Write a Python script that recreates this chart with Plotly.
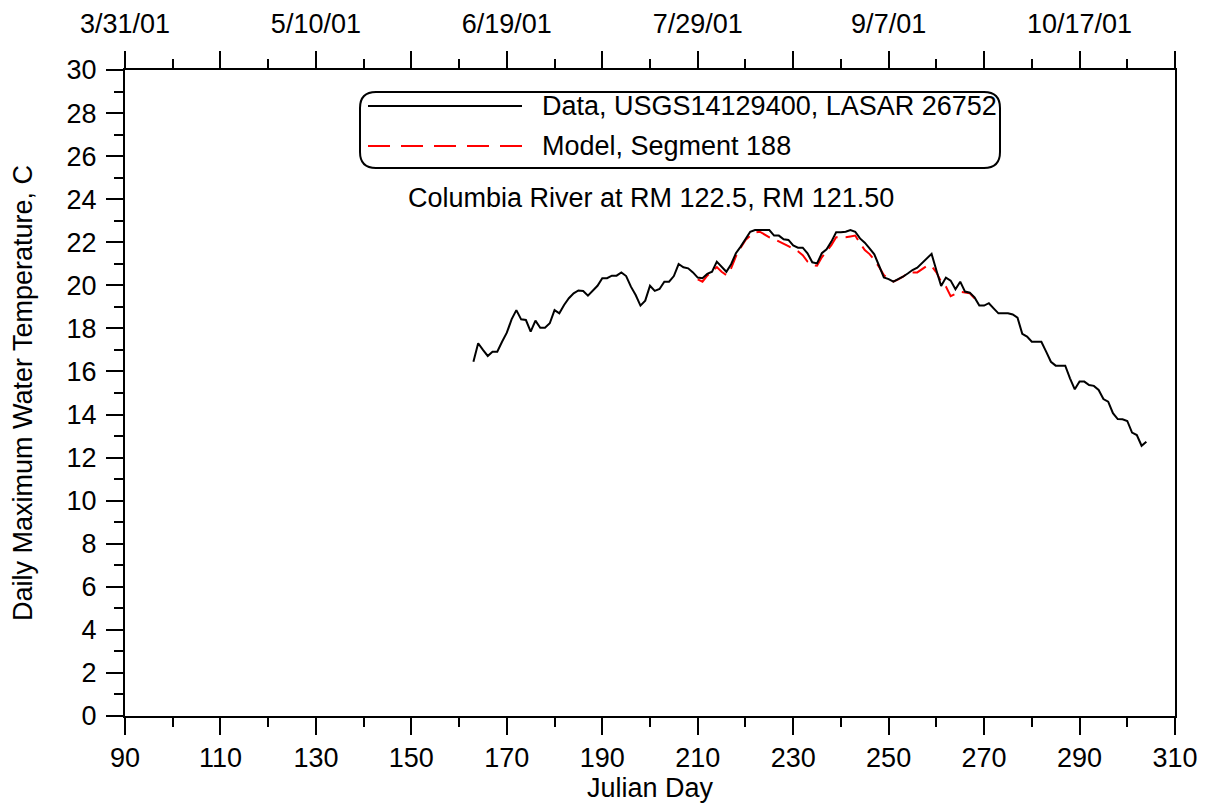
import datetime
import plotly.graph_objects as go

# ---------------- data ----------------
data_days = list(range(163, 305))
data_temp = [
    16.45, 17.31, 17.0, 16.72, 16.92, 16.92, 17.38, 17.8, 18.42, 18.85,
    18.42, 18.39, 17.85, 18.36, 18.03, 18.03, 18.24, 18.85, 18.7, 19.09,
    19.4, 19.63, 19.76, 19.74, 19.52, 19.75, 19.98, 20.33, 20.33, 20.45,
    20.45, 20.6, 20.43, 19.94, 19.55, 19.06, 19.29, 19.98, 19.74, 19.83,
    20.17, 20.17, 20.43, 20.99, 20.84, 20.79, 20.6, 20.36, 20.33, 20.53,
    20.63, 21.1, 20.84, 20.63, 20.98, 21.49, 21.8, 22.14, 22.49, 22.57,
    22.57, 22.57, 22.57, 22.31, 22.31, 22.14, 22.11, 21.85, 21.75, 21.75,
    21.49, 21.07, 21.02, 21.49, 21.67, 22.03, 22.46, 22.46, 22.49, 22.57,
    22.49, 22.18, 21.98, 21.72, 21.44, 20.91, 20.37, 20.29, 20.17, 20.29,
    20.4, 20.55, 20.71, 20.82, 21.02, 21.26, 21.46, 20.7, 19.97, 20.36,
    20.22, 19.82, 20.17, 19.71, 19.66, 19.44, 19.06, 19.06, 19.17, 18.93,
    18.7, 18.7, 18.7, 18.65, 18.5, 17.75, 17.62, 17.38, 17.38, 17.38,
    16.92, 16.45, 16.27, 16.27, 16.27, 15.68, 15.17, 15.53, 15.53, 15.37,
    15.33, 15.14, 14.72, 14.6, 14.06, 13.79, 13.78, 13.7, 13.16, 13.05,
    12.55, 12.74,
]

model_days = list(range(210, 270))
model_temp = [
    20.28, 20.17, 20.45, 20.65, 20.85, 20.63, 20.48, 20.79, 21.35, 21.75,
    22.1, 22.3, 22.45, 22.49, 22.34, 22.23, 22.15, 22.05, 21.95, 21.82,
    21.7, 21.58, 21.4, 21.1, 20.94, 20.91, 21.3, 21.6, 21.87, 22.23,
    22.23, 22.23, 22.27, 22.31, 21.95, 21.64, 21.45, 21.18, 20.85, 20.48,
    20.3, 20.17, 20.28, 20.4, 20.56, 20.6, 20.6, 20.75, 20.9, 20.9,
    20.6, 20.17, 19.94, 19.5, 19.6, 19.7, 19.67, 19.63, 19.4, 19.1,
]

data_name = "Data, USGS14129400, LASAR 26752"
model_name = "Model, Segment 188"
note_text = "Columbia River at RM 122.5, RM 121.50"
x_title = "Julian Day"
y_title = "Daily Maximum Water Temperature, C"

top_tick_days = list(range(90, 311, 20))
top_label_days = list(range(90, 311, 40))

# ---------------- layout helpers ----------------
W, H = 1206, 810
OFF = 8  # page body margin offset
L, R, T, B = 125, 1175, 70, 716
FONT = "Liberation Sans, Arial, sans-serif"
FS = 27


def px(x):
    return (x - L) / (R - L)


def py(y):
    return (B - y) / (B - T)


def date_label(d):
    dt = datetime.date(2001, 1, 1) + datetime.timedelta(days=d - 1)
    return f"{dt.month}/{dt.day}/{dt.strftime('%y')}"


top_text = [date_label(d) if d in top_label_days else "" for d in top_tick_days]

fig = go.Figure()
fig.add_trace(go.Scatter(
    x=data_days, y=data_temp, mode="lines", name=data_name,
    line=dict(color="black", width=2), showlegend=False,
    xaxis="x2", yaxis="y",
))
fig.add_trace(go.Scatter(
    x=model_days, y=model_temp, mode="lines", name=model_name,
    line=dict(color="#ff0000", width=2, dash="15px,8px"), showlegend=False,
    xaxis="x", yaxis="y",
))

# legend box (rounded)
x0, x1 = px(360), px(1000)
y0, y1 = py(168), py(92)
rx, ry = 16 / (R - L), 16 / (B - T)
path = (f"M {x0+rx},{y1} L {x1-rx},{y1} Q {x1},{y1} {x1},{y1-ry} "
        f"L {x1},{y0+ry} Q {x1},{y0} {x1-rx},{y0} L {x0+rx},{y0} "
        f"Q {x0},{y0} {x0},{y0+ry} L {x0},{y1-ry} Q {x0},{y1} {x0+rx},{y1} Z")
fig.add_shape(type="path", path=path, xref="paper", yref="paper",
              line=dict(color="black", width=2), fillcolor="white", layer="above")
fig.add_shape(type="line", xref="paper", yref="paper",
              x0=px(368), x1=px(522), y0=py(106), y1=py(106),
              line=dict(color="black", width=2))
fig.add_shape(type="line", xref="paper", yref="paper",
              x0=px(368), x1=px(522), y0=py(146), y1=py(146),
              line=dict(color="#ff0000", width=2, dash="22px,11px"))
fig.add_annotation(x=px(540), y=py(106), xref="paper", yref="paper",
                   text=data_name, showarrow=False, xanchor="left", yanchor="middle",
                   font=dict(family=FONT, size=FS, color="black"))
fig.add_annotation(x=px(540), y=py(146), xref="paper", yref="paper",
                   text=model_name, showarrow=False, xanchor="left", yanchor="middle",
                   font=dict(family=FONT, size=FS, color="black"))
fig.add_annotation(x=px(651), y=py(198), xref="paper", yref="paper",
                   text=note_text, showarrow=False, xanchor="center", yanchor="middle",
                   font=dict(family=FONT, size=FS, color="black"))

axis_common = dict(
    showgrid=False, zeroline=False, showline=True, linecolor="black", linewidth=2,
    ticks="outside", ticklen=17, tickwidth=2, tickcolor="black", automargin=False,
    tickfont=dict(family=FONT, size=FS, color="black"),
)

fig.update_layout(
    width=W, height=H,
    margin=dict(l=L - OFF, r=W - R + OFF, t=T - OFF, b=H - B + OFF, pad=0),
    paper_bgcolor="white", plot_bgcolor="white",
    font=dict(family=FONT, size=FS, color="black"),
    showlegend=False,
    xaxis=dict(
        range=[90, 310], tick0=90, dtick=20,
        minor=dict(tick0=90, dtick=10, ticks="outside", ticklen=9, tickwidth=2, tickcolor="black"),
        title=dict(text=x_title, font=dict(family=FONT, size=FS, color="black"), standoff=6),
        ticklabelstandoff=0,
        **axis_common,
    ),
    xaxis2=dict(
        range=[90, 310], overlaying="x", side="top", anchor="y",
        tickmode="array", tickvals=top_tick_days, ticktext=top_text,
        minor=dict(tickvals=list(range(100, 311, 20)), ticks="outside", ticklen=9,
                   tickwidth=2, tickcolor="black"),
        ticklabelstandoff=7,
        **axis_common,
    ),
    yaxis=dict(
        range=[0, 30], tick0=0, dtick=2, mirror=True,
        minor=dict(tick0=0, dtick=1, ticks="outside", ticklen=9, tickwidth=2, tickcolor="black"),
        title=dict(text=y_title, font=dict(family=FONT, size=FS, color="black"), standoff=30),
        ticklabelstandoff=4,
        **axis_common,
    ),
)

fig.write_html("out.html")
